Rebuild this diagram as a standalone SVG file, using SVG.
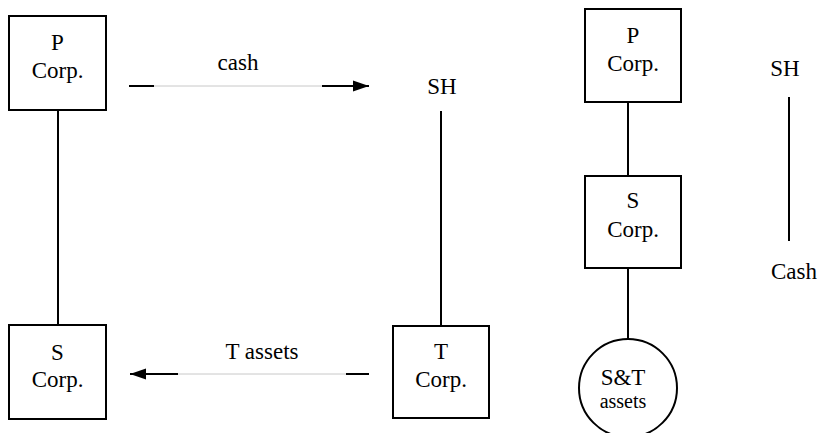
<svg xmlns="http://www.w3.org/2000/svg" width="820" height="433" viewBox="0 0 820 433">
<style>
.box{fill:#fff;stroke:#000;stroke-width:2}
.t{font-family:"Liberation Serif","Times New Roman",serif;font-size:23px;fill:#000;text-anchor:middle}
.s{font-size:20px}
.ln{stroke:#000;stroke-width:2;fill:none}
.thin{stroke:#c8c8c8;stroke-width:1;fill:none}
</style>
<defs>
<marker id="ah" viewBox="0 0 16 12" refX="16" refY="6" markerWidth="16" markerHeight="12" markerUnits="userSpaceOnUse" orient="auto">
<path d="M0,0.5 L16,6 L0,11.5 Z" fill="#000"/>
</marker>
</defs>
<rect width="820" height="433" fill="#fff"/>
<g id="connectors">
<line class="ln" x1="58" y1="110" x2="58" y2="325"/>
<line class="ln" x1="441" y1="111" x2="441" y2="326"/>
<line class="ln" x1="129" y1="86" x2="154" y2="86"/>
<line class="thin" x1="154" y1="86" x2="322" y2="86"/>
<line class="ln" x1="322" y1="86" x2="369" y2="86" marker-end="url(#ah)"/>
<line class="ln" x1="369" y1="374" x2="346" y2="374"/>
<line class="thin" x1="346" y1="374" x2="178" y2="374"/>
<line class="ln" x1="178" y1="374" x2="130" y2="374" marker-end="url(#ah)"/>
<line class="ln" x1="628" y1="102" x2="628" y2="176"/>
<line class="ln" x1="628" y1="268" x2="628" y2="339"/>
<line class="ln" x1="789" y1="97" x2="789" y2="241"/>
</g>
<g id="label-cash"><text class="t" x="238" y="70">cash</text></g>
<g id="label-tassets"><text class="t" x="262" y="359">T assets</text></g>
<g id="P1"><rect class="box" x="9" y="16" width="97" height="94"/><text class="t" x="57.5" y="50">P</text><text class="t" x="57.5" y="78">Corp.</text></g>
<g id="SH1"><text class="t" x="442" y="94">SH</text></g>
<g id="S1"><rect class="box" x="9" y="325" width="97" height="94"/><text class="t" x="57.5" y="360">S</text><text class="t" x="57.5" y="387">Corp.</text></g>
<g id="T1"><rect class="box" x="393" y="326" width="96" height="92"/><text class="t" x="441" y="359">T</text><text class="t" x="441" y="387">Corp.</text></g>
<g id="P2"><rect class="box" x="585" y="9" width="96" height="93"/><text class="t" x="633" y="43">P</text><text class="t" x="633" y="71">Corp.</text></g>
<g id="S2"><rect class="box" x="585" y="176" width="96" height="92"/><text class="t" x="633" y="208">S</text><text class="t" x="633" y="237">Corp.</text></g>
<g id="ST"><circle class="box" cx="628" cy="388" r="49"/><text class="t" x="623" y="385">S&amp;T</text><text class="t s" x="623" y="408">assets</text></g>
<g id="SH2"><text class="t" x="785" y="76">SH</text></g>
<g id="Cash2"><text class="t" x="794" y="279">Cash</text></g>
</svg>
